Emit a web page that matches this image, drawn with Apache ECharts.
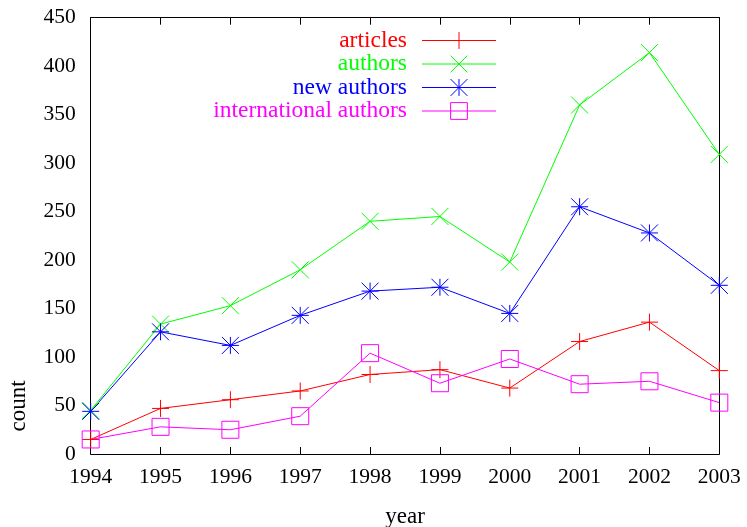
<!DOCTYPE html>
<html>
<head>
<meta charset="utf-8">
<script src="https://cdn.jsdelivr.net/npm/echarts@6/dist/echarts.min.js"></script>
<style>
  html, body { margin: 0; padding: 0; background: #fff; }
  #main { width: 747px; height: 527px; }
</style>
</head>
<body>
<div id="main"></div>
<script>
const years = ["1994", "1995", "1996", "1997", "1998", "1999", "2000", "2001", "2002", "2003"];
const articles = [15, 47, 56, 65, 82, 87, 68, 116, 136, 86];
const authors = [45, 134, 153, 190, 240, 245, 198, 360, 414, 309];
const newAuthors = [44, 126, 112, 143, 168, 172, 145, 255, 228, 174];
const intlAuthors = [15, 28, 25, 39, 104, 73, 98, 72, 75, 53];

const FONT = "'Liberation Serif', 'DejaVu Serif', serif";

// gnuplot style point types
const PLUS = "path://M0 5L10 5M5 0L5 10";
const CROSS = "path://M0 0L10 10M10 0L0 10";
const STAR = "path://M0 5L10 5M5 0L5 10M0 0L10 10M10 0L0 10";
const BOX = "path://M0 0L10 0L10 10L0 10Z";

function mkSeries(name, data, color, symbol) {
  return {
    name: name,
    type: "line",
    data: data,
    symbol: symbol,
    symbolSize: 17,
    showAllSymbol: true,
    clip: false,
    lineStyle: { color: color, width: 1 },
    itemStyle: { color: "none", borderColor: color, borderWidth: 1 },
    emphasis: { disabled: true },
    animation: false
  };
}

const myChart = echarts.init(document.getElementById("main"));

const axisTick = { inside: true, length: 7, lineStyle: { color: "#000", width: 1 } };
const axisLine = { show: true, onZero: false, lineStyle: { color: "#000", width: 1 } };

let options = {
  backgroundColor: "#fff",
  animation: false,
  grid: { left: 90.7, right: 27.7, top: 17.7, bottom: 73, outerBoundsMode: "none", containLabel: false },
  legend: {
    orient: "vertical",
    align: "right",
    right: 250.5,
    top: 28.5,
    padding: 0,
    itemWidth: 74,
    itemHeight: 21,
    itemGap: -0.5,
    lineStyle: { width: 1 },
    itemStyle: { borderWidth: 1 },
    textStyle: { fontFamily: FONT, fontSize: 23.5, lineHeight: 21, padding: [0, 10, 0, 0] },
    data: [
      { name: "articles", textStyle: { color: "#ff0000" } },
      { name: "authors", textStyle: { color: "#00ff00" } },
      { name: "new authors", textStyle: { color: "#0000ff" } },
      { name: "international authors", textStyle: { color: "#ff00ff" } }
    ]
  },
  xAxis: [
    {
      type: "category",
      data: years,
      boundaryGap: false,
      name: "year",
      nameLocation: "middle",
      nameGap: 51,
      nameTextStyle: { fontFamily: FONT, fontSize: 23, color: "#000" },
      axisLine: axisLine,
      axisTick: axisTick,
      axisLabel: { fontFamily: FONT, fontSize: 21.5, color: "#000", margin: 12 },
      splitLine: { show: false }
    },
    {
      type: "category",
      data: years,
      boundaryGap: false,
      position: "top",
      axisLine: axisLine,
      axisTick: axisTick,
      axisLabel: { show: false },
      splitLine: { show: false }
    }
  ],
  yAxis: [
    {
      type: "value",
      min: 0,
      max: 450,
      interval: 50,
      axisLine: axisLine,
      axisTick: axisTick,
      axisLabel: { fontFamily: FONT, fontSize: 21.5, color: "#000", margin: 15 },
      splitLine: { show: false }
    },
    {
      type: "value",
      min: 0,
      max: 450,
      interval: 50,
      position: "right",
      axisLine: axisLine,
      axisTick: axisTick,
      axisLabel: { show: false },
      splitLine: { show: false }
    }
  ],
  graphic: [
    {
      type: "text",
      x: 19,
      y: 406,
      rotation: Math.PI / 2,
      style: {
        text: "count",
        fill: "#000",
        font: "23px " + FONT,
        align: "center",
        verticalAlign: "middle"
      }
    }
  ],
  series: [
    mkSeries("articles", articles, "#ff0000", PLUS),
    mkSeries("authors", authors, "#00ff00", CROSS),
    mkSeries("new authors", newAuthors, "#0000ff", STAR),
    mkSeries("international authors", intlAuthors, "#ff00ff", BOX)
  ]
};
myChart.setOption(options);
</script>
</body>
</html>
